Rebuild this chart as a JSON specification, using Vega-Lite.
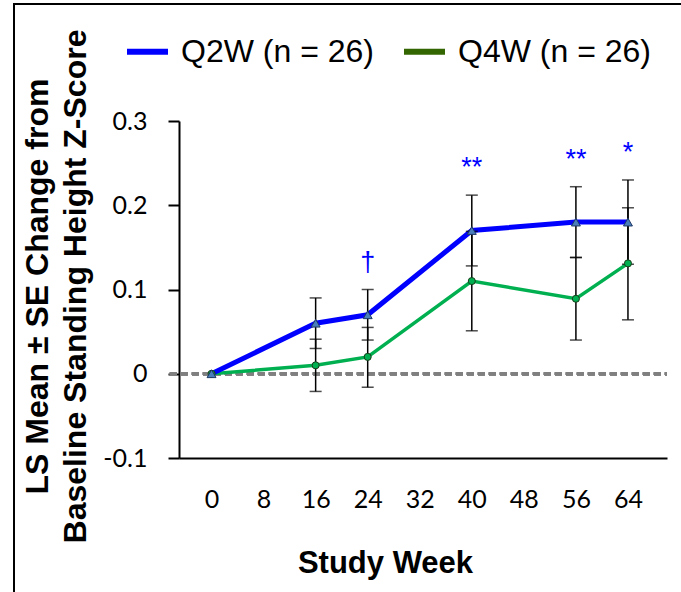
{
  "$schema": "https://vega.github.io/schema/vega-lite/v6.json",
  "width": 667,
  "height": 588,
  "padding": {"left": 14, "top": 4, "right": 0, "bottom": 0},
  "autosize": {"type": "none"},
  "background": "white",
  "config": {
    "view": {"stroke": "black", "strokeWidth": 2, "strokeDash": [667, 1255, 588]},
    "axis": {"grid": false, "domainColor": "black", "domainWidth": 2, "tickColor": "black", "tickWidth": 2, "labelColor": "black", "titleColor": "black"}
  },
  "data": {"values": [
    {"group": "Q2W (n = 26)", "week": 0, "mean": 0, "lo": null, "hi": null, "sig": null},
    {"group": "Q2W (n = 26)", "week": 16, "mean": 0.06, "lo": 0.03, "hi": 0.09, "sig": null},
    {"group": "Q2W (n = 26)", "week": 24, "mean": 0.07, "lo": 0.04, "hi": 0.10, "sig": "†"},
    {"group": "Q2W (n = 26)", "week": 40, "mean": 0.17, "lo": 0.128, "hi": 0.212, "sig": "**"},
    {"group": "Q2W (n = 26)", "week": 56, "mean": 0.18, "lo": 0.138, "hi": 0.222, "sig": "**"},
    {"group": "Q2W (n = 26)", "week": 64, "mean": 0.18, "lo": 0.13, "hi": 0.23, "sig": "*"},
    {"group": "Q4W (n = 26)", "week": 0, "mean": 0, "lo": null, "hi": null, "sig": null},
    {"group": "Q4W (n = 26)", "week": 16, "mean": 0.01, "lo": -0.021, "hi": 0.041, "sig": null},
    {"group": "Q4W (n = 26)", "week": 24, "mean": 0.02, "lo": -0.016, "hi": 0.055, "sig": null},
    {"group": "Q4W (n = 26)", "week": 40, "mean": 0.11, "lo": 0.051, "hi": 0.169, "sig": null},
    {"group": "Q4W (n = 26)", "week": 56, "mean": 0.089, "lo": 0.04, "hi": 0.138, "sig": null},
    {"group": "Q4W (n = 26)", "week": 64, "mean": 0.131, "lo": 0.064, "hi": 0.197, "sig": null}
  ]},
  "encoding": {
    "x": {
      "field": "week", "type": "quantitative",
      "scale": {"domain": [-5, 70], "range": [165, 653], "nice": false, "zero": false},
      "axis": {
        "values": [0, 8, 16, 24, 32, 40, 48, 56, 64],
        "offset": -134, "ticks": false, "tickSize": 0,
        "labelFont": "Lato", "labelFontSize": 25, "labelPadding": 29,
        "title": "Study Week", "titleFont": "Liberation Sans", "titleFontSize": 31, "titleFontWeight": "bold",
        "titleX": 371, "titleY": 105, "titleAlign": "center", "titleBaseline": "middle", "titleAngle": 0
      }
    },
    "y": {
      "field": "mean", "type": "quantitative",
      "scale": {"domain": [-0.1, 0.3], "range": [454, 117], "nice": false, "zero": false},
      "axis": {
        "values": [-0.1, 0, 0.1, 0.2, 0.3],
        "offset": -165, "tickSize": 11,
        "labelExpr": "replace(format(datum.value, '.1~f'), '\u2212', '-')",
        "labelFont": "Lato", "labelFontSize": 25, "labelPadding": 21,
        "title": ["LS Mean ± SE Change from", "Baseline Standing Height Z-Score"],
        "titleFont": "Liberation Sans", "titleFontSize": 32, "titleFontWeight": "bold", "titleLineHeight": 38,
        "titleX": -142, "titleY": 282, "titleAlign": "center", "titleBaseline": "middle", "titleAngle": -90
      }
    }
  },
  "layer": [
    {
      "mark": {"type": "rule", "color": "#808080", "strokeWidth": 3, "strokeDash": [7, 4]},
      "encoding": {"x": {"datum": -6.4}, "x2": {"datum": 70}, "y": {"datum": 0}}
    },
    {
      "transform": [{"filter": "datum.group == 'Q4W (n = 26)'"}],
      "mark": {"type": "line", "color": "#00B050", "strokeWidth": 3.5},
      "encoding": {}
    },
    {
      "transform": [{"filter": "datum.group == 'Q2W (n = 26)'"}],
      "mark": {"type": "line", "color": "#0000FF", "strokeWidth": 5},
      "encoding": {}
    },
    {
      "transform": [{"filter": "datum.hi != null"}],
      "mark": {"type": "rule", "color": "black", "strokeWidth": 1.5},
      "encoding": {"y": {"field": "lo"}, "y2": {"field": "hi"}}
    },
    {
      "transform": [{"filter": "datum.hi != null"}],
      "mark": {"type": "tick", "orient": "horizontal", "color": "black", "size": 12, "thickness": 1.5},
      "encoding": {"y": {"field": "lo", "type": "quantitative"}}
    },
    {
      "transform": [{"filter": "datum.hi != null"}],
      "mark": {"type": "tick", "orient": "horizontal", "color": "black", "size": 12, "thickness": 1.5},
      "encoding": {"y": {"field": "hi", "type": "quantitative"}}
    },
    {
      "transform": [{"filter": "datum.group == 'Q4W (n = 26)'"}],
      "mark": {"type": "point", "shape": "circle", "filled": true, "fill": "#00B050", "stroke": "#1a3d1a", "strokeWidth": 1, "size": 50, "opacity": 1},
      "encoding": {}
    },
    {
      "transform": [{"filter": "datum.group == 'Q2W (n = 26)'"}],
      "mark": {"type": "point", "shape": "triangle-up", "filled": true, "fill": "#4A7EBB", "stroke": "#1F3864", "strokeWidth": 1, "size": 80, "opacity": 1},
      "encoding": {}
    },
    {
      "transform": [{"filter": "datum.sig != null"}],
      "mark": {"type": "text", "color": "#0000FF", "font": "Liberation Sans", "fontSize": 27, "baseline": "middle", "dy": -27},
      "encoding": {"y": {"field": "hi", "type": "quantitative"}, "text": {"field": "sig"}}
    },
    {
      "mark": {"type": "point", "size": 0, "strokeWidth": 0, "filled": false},
      "encoding": {
        "stroke": {
          "field": "group", "type": "nominal",
          "scale": {"domain": ["Q2W (n = 26)", "Q4W (n = 26)"], "range": ["#0000FF", "#336600"]},
          "legend": {
            "orient": "none", "direction": "horizontal", "legendX": 110, "legendY": 24,
            "title": null, "padding": 0,
            "symbolType": "stroke", "symbolSize": 1681, "symbolStrokeWidth": 6, "symbolOpacity": 1,
            "labelFont": "Liberation Sans", "labelFontSize": 32, "labelColor": "black", "labelOffset": 10,
            "columnPadding": 18, "labelLimit": 400
          }
        }
      }
    }
  ]
}
